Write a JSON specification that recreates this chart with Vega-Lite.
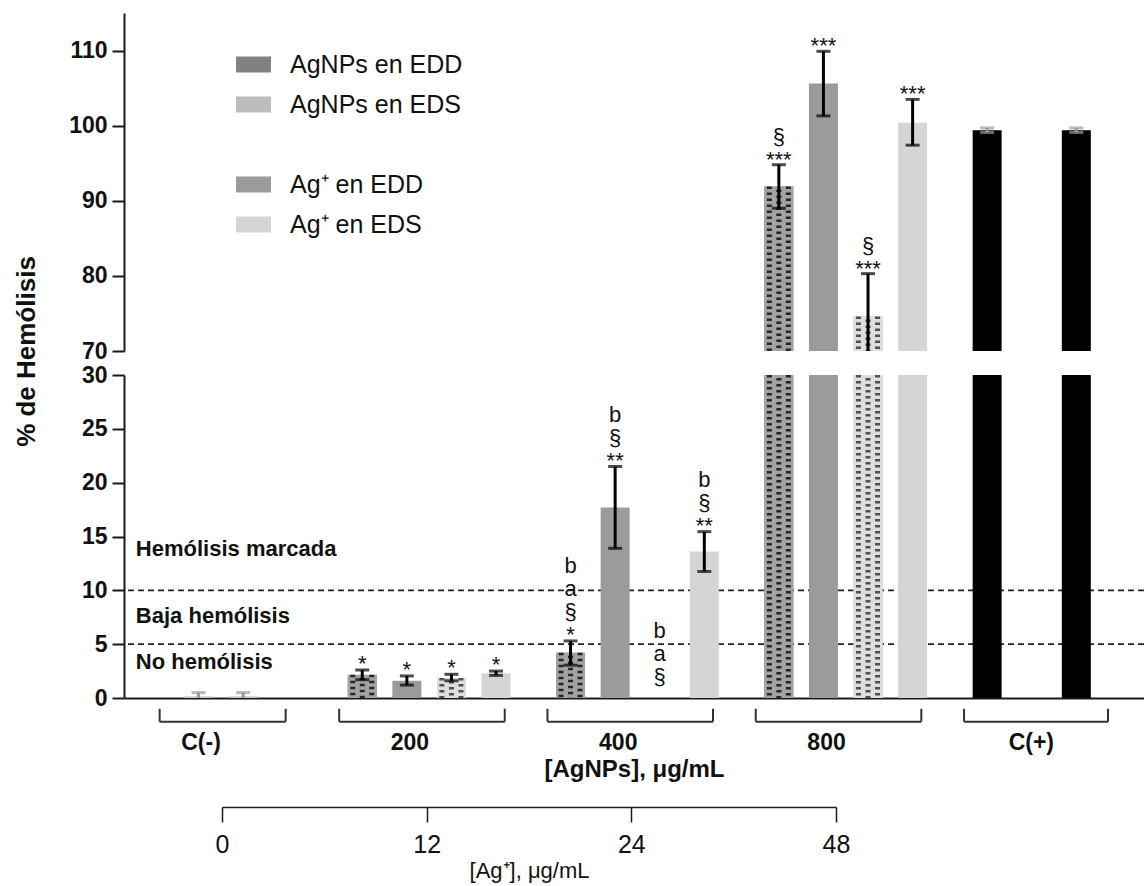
{
  "$schema": "https://vega.github.io/schema/vega-lite/v6.json",
  "width": 1020,
  "height": 685,
  "autosize": {"type": "none"},
  "padding": {"left": 124, "top": 13, "right": 0, "bottom": 188},
  "background": "white",
  "config": {
    "view": {"stroke": null},
    "font": "Liberation Sans",
    "axis": {"grid": false, "domainColor": "#1a1a1a", "tickColor": "#1a1a1a", "domainWidth": 2, "tickWidth": 2, "labelColor": "#111111", "titleColor": "#111111", "labelFont": "Liberation Sans", "titleFont": "Liberation Sans"},
    "legend": {"labelFont": "Liberation Sans"}
  },
  "datasets": {
    "hemolisis": [
      {"grupo": "C(-)", "serie": "Ag⁺ en EDD", "relleno": "C(-)", "valor": 0.15, "lo": 0, "hi": 0.5, "sig": ""},
      {"grupo": "C(-)", "serie": "AgNPs en EDS", "relleno": "C(-)", "valor": 0.15, "lo": 0, "hi": 0.5, "sig": ""},
      {"grupo": "200", "serie": "AgNPs en EDD", "relleno": "AgNPs en EDD", "valor": 2.15, "lo": 1.7, "hi": 2.6, "sig": "*"},
      {"grupo": "200", "serie": "Ag⁺ en EDD", "relleno": "Ag⁺ en EDD", "valor": 1.6, "lo": 1.2, "hi": 2.05, "sig": "*"},
      {"grupo": "200", "serie": "AgNPs en EDS", "relleno": "AgNPs en EDS", "valor": 1.85, "lo": 1.6, "hi": 2.2, "sig": "*"},
      {"grupo": "200", "serie": "Ag⁺ en EDS", "relleno": "Ag⁺ en EDS", "valor": 2.3, "lo": 2.1, "hi": 2.5, "sig": "*"},
      {"grupo": "400", "serie": "AgNPs en EDD", "relleno": "AgNPs en EDD", "valor": 4.2, "lo": 3.05, "hi": 5.3, "sig": "b\na\n§\n*"},
      {"grupo": "400", "serie": "Ag⁺ en EDD", "relleno": "Ag⁺ en EDD", "valor": 17.7, "lo": 13.9, "hi": 21.5, "sig": "b\n§\n**"},
      {"grupo": "400", "serie": "AgNPs en EDS", "relleno": "AgNPs en EDS", "valor": 0, "lo": 0, "hi": 0, "sig": "b\na\n§"},
      {"grupo": "400", "serie": "Ag⁺ en EDS", "relleno": "Ag⁺ en EDS", "valor": 13.6, "lo": 11.75, "hi": 15.45, "sig": "b\n§\n**"},
      {"grupo": "800", "serie": "AgNPs en EDD", "relleno": "AgNPs en EDD", "valor": 91.9, "lo": 89.0, "hi": 94.8, "sig": "§\n***"},
      {"grupo": "800", "serie": "Ag⁺ en EDD", "relleno": "Ag⁺ en EDD", "valor": 105.6, "lo": 101.3, "hi": 109.9, "sig": "***"},
      {"grupo": "800", "serie": "AgNPs en EDS", "relleno": "AgNPs en EDS", "valor": 74.6, "lo": 68.9, "hi": 80.3, "sig": "§\n***"},
      {"grupo": "800", "serie": "Ag⁺ en EDS", "relleno": "Ag⁺ en EDS", "valor": 100.4, "lo": 97.4, "hi": 103.5, "sig": "***"},
      {"grupo": "C(+)", "serie": "AgNPs en EDD", "relleno": "C(+)", "valor": 99.4, "lo": 99.1, "hi": 99.7, "sig": ""},
      {"grupo": "C(+)", "serie": "AgNPs en EDS", "relleno": "C(+)", "valor": 99.4, "lo": 99.1, "hi": 99.7, "sig": ""}
    ]
  },
  "resolve": {
    "scale": {"x": "independent", "y": "independent", "xOffset": "independent"},
    "axis": {"x": "independent", "y": "independent"}
  },
  "layer": [
    {
      "layer": [
        {
          "data": {"values": [{"umbral": 5}, {"umbral": 10}]},
          "mark": {"type": "rule", "strokeDash": [6, 4], "strokeWidth": 1.6, "color": "#222222"},
          "encoding": {
            "y": {"field": "umbral", "type": "quantitative",
                  "scale": {"domain": [0, 30], "range": [685, 362], "clamp": true, "nice": false, "zero": false},
                  "axis": {"orient": "left", "values": [0, 5, 10, 15, 20, 25, 30], "title": null, "tickSize": 12, "labelFontSize": 23, "labelFontWeight": "bold", "labelPadding": 5}}
          }
        },
        {
          "data": {"values": [{}]},
          "mark": {"type": "text", "align": "left", "baseline": "middle", "fontSize": 22, "fontWeight": "bold", "dx": 5, "color": "#111111"},
          "encoding": {
            "x": {"datum": "C(-)", "type": "nominal", "bandPosition": 0, "scale": {"domain": ["C(-)", "200", "400", "800", "C(+)"], "paddingInner": 0.136, "paddingOuter": 0.0165, "align": 1}},
            "y": {"datum": 13.8, "type": "quantitative", "scale": {"domain": [0, 30], "range": [685, 362], "clamp": true, "nice": false, "zero": false}},
            "text": {"value": "Hemólisis marcada"}
          }
        },
        {
          "data": {"values": [{}]},
          "mark": {"type": "text", "align": "left", "baseline": "middle", "fontSize": 22, "fontWeight": "bold", "dx": 5, "color": "#111111"},
          "encoding": {
            "x": {"datum": "C(-)", "type": "nominal", "bandPosition": 0},
            "y": {"datum": 7.6, "type": "quantitative"},
            "text": {"value": "Baja hemólisis"}
          }
        },
        {
          "data": {"values": [{}]},
          "mark": {"type": "text", "align": "left", "baseline": "middle", "fontSize": 22, "fontWeight": "bold", "dx": 5, "color": "#111111"},
          "encoding": {
            "x": {"datum": "C(-)", "type": "nominal", "bandPosition": 0},
            "y": {"datum": 3.3, "type": "quantitative"},
            "text": {"value": "No hemólisis"}
          }
        },
        {
          "data": {"name": "hemolisis"},
          "mark": {"type": "bar"},
          "encoding": {
            "x": {"field": "grupo", "type": "nominal",
                  "scale": {"domain": ["C(-)", "200", "400", "800", "C(+)"], "paddingInner": 0.136, "paddingOuter": 0.0165, "align": 1},
                  "axis": {"orient": "bottom", "title": "[AgNPs], μg/mL", "titleFontSize": 24, "titleFontWeight": "bold", "titlePadding": 3, "labelFontSize": 23, "labelFontWeight": "bold", "ticks": false, "tickSize": 0, "labelPadding": 44, "labelAngle": 0, "domainWidth": 2}},
            "xOffset": {"field": "serie", "type": "nominal", "scale": {"domain": ["AgNPs en EDD", "Ag⁺ en EDD", "AgNPs en EDS", "Ag⁺ en EDS"], "paddingInner": 0.35, "paddingOuter": 0.193}},
            "y": {"field": "valor", "type": "quantitative", "scale": {"domain": [0, 30], "range": [685, 362], "clamp": true, "nice": false, "zero": false}},
            "y2": {"datum": 0},
            "color": {"field": "relleno", "type": "nominal",
                      "scale": {"domain": ["AgNPs en EDD", "AgNPs en EDS", " ", "Ag⁺ en EDD", "Ag⁺ en EDS", "C(-)", "C(+)"],
                                "range": ["#818181", "#bdbdbd", "#ffffff", "#9b9b9d", "#d5d5d5", "#c2c2c2", "#000000"]},
                      "legend": {"values": ["AgNPs en EDD", "AgNPs en EDS", " ", "Ag⁺ en EDD", "Ag⁺ en EDS"], "title": null, "orient": "none", "legendX": 112, "legendY": 34,
                                 "symbolType": "M-1,-0.46L1,-0.46L1,0.46L-1,0.46Z", "symbolSize": 1225, "symbolStrokeWidth": 0, "symbolOpacity": 1,
                                 "labelFontSize": 25, "labelOffset": 19, "labelLimit": 400, "rowPadding": 9, "padding": 0, "labelColor": "#111111"}}
          }
        },
        {
          "data": {"name": "hemolisis"},
          "transform": [{"filter": "datum.relleno == 'AgNPs en EDD' || datum.relleno == 'AgNPs en EDS'"}],
          "mark": {"type": "bar"},
          "encoding": {
            "x": {"field": "grupo", "type": "nominal"},
            "xOffset": {"field": "serie", "type": "nominal"},
            "y": {"field": "valor", "type": "quantitative"},
            "y2": {"datum": 0},
            "color": {"condition": {"test": "datum.relleno == 'AgNPs en EDD'", "value": "#a2a2a2"}, "value": "#dedede"}
          }
        },
        {"data": {"name": "hemolisis"}, "transform": [{"filter": "datum.relleno == 'AgNPs en EDD'"}],
         "mark": {"type": "rule", "strokeWidth": 5, "strokeDash": [2.5, 3.5], "strokeCap": "butt", "color": "#262626"},
         "encoding": {"x": {"field": "grupo", "type": "nominal", "bandPosition": 0.0756}, "y": {"field": "valor", "type": "quantitative"}, "y2": {"datum": 0}}},
        {"data": {"name": "hemolisis"}, "transform": [{"filter": "datum.relleno == 'AgNPs en EDD'"}],
         "mark": {"type": "rule", "strokeWidth": 5, "strokeDash": [2.5, 3.5], "strokeDashOffset": 3, "strokeCap": "butt", "color": "#262626"},
         "encoding": {"x": {"field": "grupo", "type": "nominal", "bandPosition": 0.1283}, "y": {"field": "valor", "type": "quantitative"}, "y2": {"datum": 0}}},
        {"data": {"name": "hemolisis"}, "transform": [{"filter": "datum.relleno == 'AgNPs en EDD'"}],
         "mark": {"type": "rule", "strokeWidth": 5, "strokeDash": [2.5, 3.5], "strokeCap": "butt", "color": "#262626"},
         "encoding": {"x": {"field": "grupo", "type": "nominal", "bandPosition": 0.1811}, "y": {"field": "valor", "type": "quantitative"}, "y2": {"datum": 0}}},
        {"data": {"name": "hemolisis"}, "transform": [{"filter": "datum.relleno == 'AgNPs en EDS'"}],
         "mark": {"type": "rule", "strokeWidth": 5, "strokeDash": [2.5, 3.5], "strokeCap": "butt", "color": "#505050"},
         "encoding": {"x": {"field": "grupo", "type": "nominal", "bandPosition": 0.5706}, "y": {"field": "valor", "type": "quantitative"}, "y2": {"datum": 0}}},
        {"data": {"name": "hemolisis"}, "transform": [{"filter": "datum.relleno == 'AgNPs en EDS'"}],
         "mark": {"type": "rule", "strokeWidth": 5, "strokeDash": [2.5, 3.5], "strokeDashOffset": 3, "strokeCap": "butt", "color": "#505050"},
         "encoding": {"x": {"field": "grupo", "type": "nominal", "bandPosition": 0.6239}, "y": {"field": "valor", "type": "quantitative"}, "y2": {"datum": 0}}},
        {"data": {"name": "hemolisis"}, "transform": [{"filter": "datum.relleno == 'AgNPs en EDS'"}],
         "mark": {"type": "rule", "strokeWidth": 5, "strokeDash": [2.5, 3.5], "strokeCap": "butt", "color": "#505050"},
         "encoding": {"x": {"field": "grupo", "type": "nominal", "bandPosition": 0.6767}, "y": {"field": "valor", "type": "quantitative"}, "y2": {"datum": 0}}},
        {
          "data": {"name": "hemolisis"},
          "transform": [{"filter": "datum.hi <= 30 && datum.hi > datum.lo"}],
          "mark": {"type": "rule", "strokeWidth": 3},
          "encoding": {
            "x": {"field": "grupo", "type": "nominal"},
            "xOffset": {"field": "serie", "type": "nominal"},
            "y": {"field": "lo", "type": "quantitative"},
            "y2": {"field": "hi"},
            "color": {"condition": {"test": "datum.relleno == 'C(-)' || datum.relleno == 'C(+)'", "value": "#9a9a9a"}, "value": "#000000"}
          }
        },
        {
          "data": {"name": "hemolisis"},
          "transform": [{"filter": "datum.hi <= 30 && datum.hi > datum.lo"}],
          "mark": {"type": "tick", "thickness": 3, "size": 14},
          "encoding": {
            "x": {"field": "grupo", "type": "nominal"},
            "xOffset": {"field": "serie", "type": "nominal"},
            "y": {"field": "hi", "type": "quantitative"},
            "color": {"condition": {"test": "datum.relleno == 'C(-)' || datum.relleno == 'C(+)'", "value": "#9a9a9a"}, "value": "#000000"}
          }
        },
        {
          "data": {"name": "hemolisis"},
          "transform": [{"filter": "datum.hi <= 30 && datum.hi > datum.lo && datum.lo > 0"}],
          "mark": {"type": "tick", "thickness": 3, "size": 14},
          "encoding": {
            "x": {"field": "grupo", "type": "nominal"},
            "xOffset": {"field": "serie", "type": "nominal"},
            "y": {"field": "lo", "type": "quantitative"},
            "color": {"condition": {"test": "datum.relleno == 'C(-)' || datum.relleno == 'C(+)'", "value": "#9a9a9a"}, "value": "#000000"}
          }
        },
        {
          "data": {"name": "hemolisis"},
          "transform": [{"filter": "datum.hi <= 30 && datum.valor > 0 && length(split(datum.sig, '\\n')) == 1"}],
          "mark": {"type": "text", "baseline": "alphabetic", "lineBreak": "\n", "lineHeight": 23, "fontSize": 22, "dy": 1, "color": "#111111"},
          "encoding": {
            "x": {"field": "grupo", "type": "nominal"},
            "xOffset": {"field": "serie", "type": "nominal"},
            "y": {"field": "hi", "type": "quantitative"},
            "text": {"field": "sig", "type": "nominal"}
          }
        },
        {
          "data": {"name": "hemolisis"},
          "transform": [{"filter": "datum.hi <= 30 && datum.valor > 0 && length(split(datum.sig, '\\n')) == 3"}],
          "mark": {"type": "text", "baseline": "alphabetic", "lineBreak": "\n", "lineHeight": 23, "fontSize": 22, "dy": -45, "color": "#111111"},
          "encoding": {
            "x": {"field": "grupo", "type": "nominal"},
            "xOffset": {"field": "serie", "type": "nominal"},
            "y": {"field": "hi", "type": "quantitative"},
            "text": {"field": "sig", "type": "nominal"}
          }
        },
        {
          "data": {"name": "hemolisis"},
          "transform": [{"filter": "datum.hi <= 30 && datum.valor > 0 && length(split(datum.sig, '\\n')) == 4"}],
          "mark": {"type": "text", "baseline": "alphabetic", "lineBreak": "\n", "lineHeight": 23, "fontSize": 22, "dy": -68, "color": "#111111"},
          "encoding": {
            "x": {"field": "grupo", "type": "nominal"},
            "xOffset": {"field": "serie", "type": "nominal"},
            "y": {"field": "hi", "type": "quantitative"},
            "text": {"field": "sig", "type": "nominal"}
          }
        },
        {
          "data": {"name": "hemolisis"},
          "transform": [{"filter": "datum.valor == 0"}],
          "mark": {"type": "text", "baseline": "alphabetic", "lineBreak": "\n", "lineHeight": 23, "fontSize": 22, "dy": -60, "color": "#111111"},
          "encoding": {
            "x": {"field": "grupo", "type": "nominal"},
            "xOffset": {"field": "serie", "type": "nominal"},
            "y": {"field": "hi", "type": "quantitative"},
            "text": {"field": "sig", "type": "nominal"}
          }
        }
      ]
    },
    {
      "data": {"name": "hemolisis"},
      "transform": [{"filter": "datum.valor > 70"}],
      "layer": [
        {
          "mark": {"type": "bar"},
          "encoding": {
            "x": {"field": "grupo", "type": "nominal", "scale": {"domain": ["C(-)", "200", "400", "800", "C(+)"], "paddingInner": 0.136, "paddingOuter": 0.0165, "align": 1}, "axis": null},
            "xOffset": {"field": "serie", "type": "nominal", "scale": {"domain": ["AgNPs en EDD", "Ag⁺ en EDD", "AgNPs en EDS", "Ag⁺ en EDS"], "paddingInner": 0.35, "paddingOuter": 0.193}},
            "y": {"field": "valor", "type": "quantitative",
                  "scale": {"domain": [70, 115], "range": [338, 0], "clamp": true, "nice": false, "zero": false},
                  "axis": {"orient": "left", "values": [70, 80, 90, 100, 110], "title": "% de Hemólisis", "titleFontSize": 26, "titleFontWeight": "bold", "titleX": -90, "titleY": 338, "titleAngle": 270, "titleBaseline": "alphabetic", "titleAnchor": "middle", "tickSize": 12, "labelFontSize": 23, "labelFontWeight": "bold", "labelPadding": 5}},
            "y2": {"datum": 70},
            "color": {"field": "relleno", "type": "nominal"}
          }
        },
        {
          "transform": [{"filter": "datum.relleno == 'AgNPs en EDD' || datum.relleno == 'AgNPs en EDS'"}],
          "mark": {"type": "bar"},
          "encoding": {
            "x": {"field": "grupo", "type": "nominal"},
            "xOffset": {"field": "serie", "type": "nominal"},
            "y": {"field": "valor", "type": "quantitative"},
            "y2": {"datum": 70},
            "color": {"condition": {"test": "datum.relleno == 'AgNPs en EDD'", "value": "#a2a2a2"}, "value": "#dedede"}
          }
        },
        {"transform": [{"filter": "datum.relleno == 'AgNPs en EDD'"}],
         "mark": {"type": "rule", "strokeWidth": 5, "strokeDash": [2.5, 3.5], "strokeCap": "butt", "color": "#262626"},
         "encoding": {"x": {"field": "grupo", "type": "nominal", "bandPosition": 0.0756}, "y": {"field": "valor", "type": "quantitative"}, "y2": {"datum": 70}}},
        {"transform": [{"filter": "datum.relleno == 'AgNPs en EDD'"}],
         "mark": {"type": "rule", "strokeWidth": 5, "strokeDash": [2.5, 3.5], "strokeDashOffset": 3, "strokeCap": "butt", "color": "#262626"},
         "encoding": {"x": {"field": "grupo", "type": "nominal", "bandPosition": 0.1283}, "y": {"field": "valor", "type": "quantitative"}, "y2": {"datum": 70}}},
        {"transform": [{"filter": "datum.relleno == 'AgNPs en EDD'"}],
         "mark": {"type": "rule", "strokeWidth": 5, "strokeDash": [2.5, 3.5], "strokeCap": "butt", "color": "#262626"},
         "encoding": {"x": {"field": "grupo", "type": "nominal", "bandPosition": 0.1811}, "y": {"field": "valor", "type": "quantitative"}, "y2": {"datum": 70}}},
        {"transform": [{"filter": "datum.relleno == 'AgNPs en EDS'"}],
         "mark": {"type": "rule", "strokeWidth": 5, "strokeDash": [2.5, 3.5], "strokeCap": "butt", "color": "#505050"},
         "encoding": {"x": {"field": "grupo", "type": "nominal", "bandPosition": 0.5706}, "y": {"field": "valor", "type": "quantitative"}, "y2": {"datum": 70}}},
        {"transform": [{"filter": "datum.relleno == 'AgNPs en EDS'"}],
         "mark": {"type": "rule", "strokeWidth": 5, "strokeDash": [2.5, 3.5], "strokeDashOffset": 3, "strokeCap": "butt", "color": "#505050"},
         "encoding": {"x": {"field": "grupo", "type": "nominal", "bandPosition": 0.6239}, "y": {"field": "valor", "type": "quantitative"}, "y2": {"datum": 70}}},
        {"transform": [{"filter": "datum.relleno == 'AgNPs en EDS'"}],
         "mark": {"type": "rule", "strokeWidth": 5, "strokeDash": [2.5, 3.5], "strokeCap": "butt", "color": "#505050"},
         "encoding": {"x": {"field": "grupo", "type": "nominal", "bandPosition": 0.6767}, "y": {"field": "valor", "type": "quantitative"}, "y2": {"datum": 70}}},
        {
          "mark": {"type": "rule", "strokeWidth": 3},
          "encoding": {
            "x": {"field": "grupo", "type": "nominal"},
            "xOffset": {"field": "serie", "type": "nominal"},
            "y": {"field": "lo", "type": "quantitative"},
            "y2": {"field": "hi"},
            "color": {"condition": {"test": "datum.relleno == 'C(+)'", "value": "#9a9a9a"}, "value": "#000000"}
          }
        },
        {
          "mark": {"type": "tick", "thickness": 3, "size": 14},
          "encoding": {
            "x": {"field": "grupo", "type": "nominal"},
            "xOffset": {"field": "serie", "type": "nominal"},
            "y": {"field": "hi", "type": "quantitative"},
            "color": {"condition": {"test": "datum.relleno == 'C(+)'", "value": "#9a9a9a"}, "value": "#000000"}
          }
        },
        {
          "transform": [{"filter": "datum.lo > 70"}],
          "mark": {"type": "tick", "thickness": 3, "size": 14},
          "encoding": {
            "x": {"field": "grupo", "type": "nominal"},
            "xOffset": {"field": "serie", "type": "nominal"},
            "y": {"field": "lo", "type": "quantitative"},
            "color": {"condition": {"test": "datum.relleno == 'C(+)'", "value": "#9a9a9a"}, "value": "#000000"}
          }
        },
        {
          "transform": [{"filter": "length(split(datum.sig, '\\n')) == 1"}],
          "mark": {"type": "text", "baseline": "alphabetic", "lineBreak": "\n", "lineHeight": 23, "fontSize": 22, "dy": 2, "color": "#111111"},
          "encoding": {
            "x": {"field": "grupo", "type": "nominal"},
            "xOffset": {"field": "serie", "type": "nominal"},
            "y": {"field": "hi", "type": "quantitative"},
            "text": {"field": "sig", "type": "nominal"}
          }
        },
        {
          "transform": [{"filter": "length(split(datum.sig, '\\n')) == 2"}],
          "mark": {"type": "text", "baseline": "alphabetic", "lineBreak": "\n", "lineHeight": 23, "fontSize": 22, "dy": -21, "color": "#111111"},
          "encoding": {
            "x": {"field": "grupo", "type": "nominal"},
            "xOffset": {"field": "serie", "type": "nominal"},
            "y": {"field": "hi", "type": "quantitative"},
            "text": {"field": "sig", "type": "nominal"}
          }
        }
      ]
    },
    {
      "data": {"values": [{"grupo": "C(-)"}, {"grupo": "200"}, {"grupo": "400"}, {"grupo": "800"}, {"grupo": "C(+)"}]},
      "layer": [
        {
          "transform": [{"filter": "datum.grupo == 'C(-)'"}],
          "mark": {"type": "rule", "strokeWidth": 2, "color": "#333333"},
          "encoding": {
            "x": {"field": "grupo", "type": "nominal", "bandPosition": 0.16, "scale": {"domain": ["C(-)", "200", "400", "800", "C(+)"], "paddingInner": 0.136, "paddingOuter": 0.0165, "align": 1}, "axis": null},
            "x2": {"field": "grupo", "bandPosition": 0.86},
            "y": {"datum": -2.2, "type": "quantitative", "scale": {"domain": [0, 30], "range": [685, 362], "nice": false, "zero": false}, "axis": null}
          }
        },
        {
          "transform": [{"filter": "datum.grupo == 'C(-)'"}],
          "mark": {"type": "rule", "strokeWidth": 2, "color": "#333333"},
          "encoding": {
            "x": {"field": "grupo", "type": "nominal", "bandPosition": 0.16},
            "y": {"datum": -1.0, "type": "quantitative"},
            "y2": {"datum": -2.2}
          }
        },
        {
          "transform": [{"filter": "datum.grupo == 'C(-)'"}],
          "mark": {"type": "rule", "strokeWidth": 2, "color": "#333333"},
          "encoding": {
            "x": {"field": "grupo", "type": "nominal", "bandPosition": 0.86},
            "y": {"datum": -1.0, "type": "quantitative"},
            "y2": {"datum": -2.2}
          }
        },
        {
          "transform": [{"filter": "datum.grupo == 'C(+)'"}],
          "mark": {"type": "rule", "strokeWidth": 2, "color": "#333333"},
          "encoding": {
            "x": {"field": "grupo", "type": "nominal", "bandPosition": 0},
            "x2": {"field": "grupo", "bandPosition": 0.8},
            "y": {"datum": -2.2, "type": "quantitative"}
          }
        },
        {
          "transform": [{"filter": "datum.grupo == 'C(+)'"}],
          "mark": {"type": "rule", "strokeWidth": 2, "color": "#333333"},
          "encoding": {
            "x": {"field": "grupo", "type": "nominal", "bandPosition": 0.8},
            "y": {"datum": -1.0, "type": "quantitative"},
            "y2": {"datum": -2.2}
          }
        },
        {
          "transform": [{"filter": "datum.grupo != 'C(-)' && datum.grupo != 'C(+)'"}],
          "mark": {"type": "rule", "strokeWidth": 2, "color": "#333333"},
          "encoding": {
            "x": {"field": "grupo", "type": "nominal", "bandPosition": 0},
            "x2": {"field": "grupo", "bandPosition": 0.92},
            "y": {"datum": -2.2, "type": "quantitative"}
          }
        },
        {
          "transform": [{"filter": "datum.grupo != 'C(-)'"}],
          "mark": {"type": "rule", "strokeWidth": 2, "color": "#333333"},
          "encoding": {
            "x": {"field": "grupo", "type": "nominal", "bandPosition": 0},
            "y": {"datum": -1.0, "type": "quantitative"},
            "y2": {"datum": -2.2}
          }
        },
        {
          "transform": [{"filter": "datum.grupo != 'C(-)' && datum.grupo != 'C(+)'"}],
          "mark": {"type": "rule", "strokeWidth": 2, "color": "#333333"},
          "encoding": {
            "x": {"field": "grupo", "type": "nominal", "bandPosition": 0.92},
            "y": {"datum": -1.0, "type": "quantitative"},
            "y2": {"datum": -2.2}
          }
        }
      ]
    },
    {
      "data": {"values": [{"ag": "0"}, {"ag": "12"}, {"ag": "24"}, {"ag": "48"}]},
      "mark": {"type": "point", "opacity": 0},
      "encoding": {
        "x": {"field": "ag", "type": "ordinal",
              "scale": {"type": "point", "domain": ["0", "12", "24", "48"], "range": [98, 712], "padding": 0},
              "axis": {"orient": "bottom", "offset": 109, "title": "[Ag⁺], μg/mL", "titleFontSize": 22, "titleFontWeight": "normal", "titlePadding": 3, "labelFontSize": 25, "labelFontWeight": "normal", "tickSize": 15, "tickWidth": 1.5, "domainWidth": 1.5, "labelPadding": 10, "labelAngle": 0}}
      }
    }
  ]
}
